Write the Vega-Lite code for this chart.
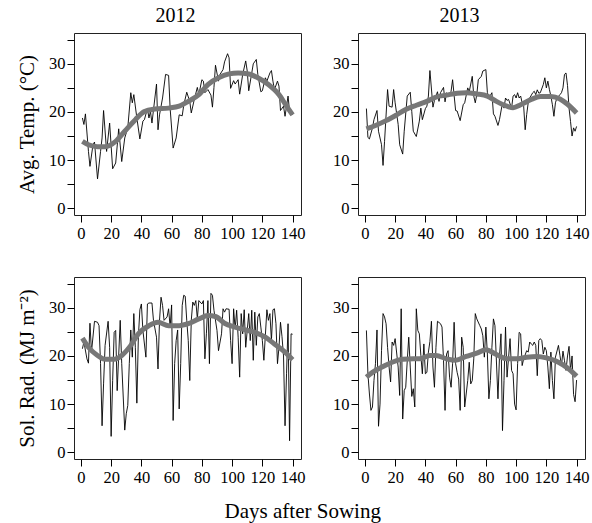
{
  "$schema": "https://vega.github.io/schema/vega-lite/v6.json",
  "padding": {"left": 16, "top": 5, "right": 0, "bottom": 10},
  "config": {
    "font": "Liberation Serif",
    "view": {"stroke": "#222", "strokeWidth": 1},
    "axis": {"domain": false, "grid": false, "tickColor": "#000", "tickSize": 7, "labelFontSize": 16.5, "labelColor": "#000", "labelOverlap": false, "titleFontSize": 21, "titleFontWeight": "normal", "titleColor": "#000", "labelFont": "Liberation Serif", "titleFont": "Liberation Serif"},
    "title": {"fontSize": 20, "fontWeight": "normal", "font": "Liberation Serif", "color": "#000"}
  },
  "datasets": {
    "aRaw": [{"d":1,"v":18.75},{"d":2,"v":17.4},{"d":3,"v":19.6},{"d":5,"v":11.8},{"d":6,"v":8.7},{"d":8,"v":13.2},{"d":9,"v":13.75},{"d":11,"v":6.1},{"d":13,"v":11.8},{"d":14,"v":14.6},{"d":15,"v":20.3},{"d":17,"v":11.8},{"d":19,"v":17.7},{"d":21,"v":8.2},{"d":23,"v":9.4},{"d":25,"v":16.5},{"d":27,"v":9.7},{"d":29,"v":14.6},{"d":31,"v":16.7},{"d":33,"v":24},{"d":34,"v":21.9},{"d":35,"v":23.6},{"d":37,"v":18.75},{"d":39,"v":14.4},{"d":41,"v":18.1},{"d":42,"v":18.4},{"d":44,"v":20.7},{"d":45,"v":18.75},{"d":46,"v":20.1},{"d":47,"v":17.7},{"d":50,"v":25.8},{"d":51,"v":16.3},{"d":52,"v":19.4},{"d":54,"v":22.9},{"d":56,"v":27.8},{"d":58,"v":27.6},{"d":59,"v":20.8},{"d":61,"v":12.5},{"d":63,"v":14.6},{"d":65,"v":19.4},{"d":67,"v":19.2},{"d":68,"v":21.4},{"d":70,"v":24.1},{"d":72,"v":22.2},{"d":73,"v":19.8},{"d":75,"v":22.6},{"d":77,"v":25.1},{"d":78,"v":23.6},{"d":80,"v":26.7},{"d":81,"v":26.4},{"d":82,"v":24},{"d":84,"v":24.65},{"d":86,"v":23.5},{"d":87,"v":21},{"d":88,"v":25.1},{"d":89,"v":29.7},{"d":91,"v":26.4},{"d":92,"v":27.8},{"d":94,"v":28.8},{"d":95,"v":30.4},{"d":97,"v":32.1},{"d":98,"v":31.25},{"d":99,"v":24.9},{"d":101,"v":26.5},{"d":102,"v":25.8},{"d":104,"v":26.7},{"d":105,"v":23.7},{"d":107,"v":27.8},{"d":109,"v":30.6},{"d":110,"v":28.5},{"d":111,"v":24.4},{"d":113,"v":28.1},{"d":114,"v":30},{"d":116,"v":30.9},{"d":117,"v":27.8},{"d":119,"v":24.2},{"d":120,"v":24.4},{"d":122,"v":27.1},{"d":123,"v":26.4},{"d":125,"v":28.1},{"d":126,"v":28.6},{"d":127,"v":26.4},{"d":128,"v":24.65},{"d":130,"v":26.4},{"d":131,"v":25.35},{"d":132,"v":20.3},{"d":134,"v":21.2},{"d":135,"v":19.1},{"d":137,"v":23.3},{"d":138,"v":20.1},{"d":140,"v":19.4}],
    "aSm": [{"d":1,"v":13.9},{"d":5,"v":13.2},{"d":11,"v":12.8},{"d":16,"v":12.8},{"d":23,"v":13.9},{"d":29,"v":16},{"d":36,"v":18.4},{"d":42,"v":20.1},{"d":49,"v":20.6},{"d":58,"v":20.8},{"d":65,"v":21.2},{"d":71,"v":22.2},{"d":78,"v":23.6},{"d":84,"v":25.7},{"d":91,"v":27.1},{"d":98,"v":27.9},{"d":104,"v":28.1},{"d":111,"v":27.9},{"d":117,"v":27.1},{"d":124,"v":25.7},{"d":131,"v":23.6},{"d":136,"v":21.2},{"d":140,"v":19.4}],
    "bRaw": [{"d":1,"v":20.7},{"d":2,"v":14.7},{"d":3,"v":14.4},{"d":5,"v":16.7},{"d":6,"v":18.4},{"d":8,"v":20.3},{"d":9,"v":16},{"d":11,"v":13.2},{"d":12,"v":8.9},{"d":13,"v":13.9},{"d":15,"v":24.65},{"d":16,"v":21.2},{"d":18,"v":21},{"d":19,"v":24.65},{"d":20,"v":21.9},{"d":22,"v":17.4},{"d":23,"v":13.2},{"d":25,"v":11.25},{"d":26,"v":16},{"d":28,"v":23.3},{"d":30,"v":24.1},{"d":31,"v":20.1},{"d":32,"v":16},{"d":34,"v":14.9},{"d":36,"v":18.1},{"d":37,"v":20.8},{"d":38,"v":18.4},{"d":40,"v":20.7},{"d":41,"v":21.2},{"d":42,"v":23.3},{"d":43,"v":28.6},{"d":45,"v":21},{"d":46,"v":22.4},{"d":48,"v":24.2},{"d":49,"v":22.2},{"d":50,"v":24},{"d":52,"v":25.1},{"d":53,"v":22.1},{"d":54,"v":24},{"d":56,"v":23.3},{"d":57,"v":24.3},{"d":58,"v":26.7},{"d":60,"v":20.3},{"d":61,"v":20.2},{"d":63,"v":18.2},{"d":65,"v":21.5},{"d":66,"v":21.9},{"d":68,"v":25},{"d":69,"v":24.2},{"d":71,"v":27.4},{"d":72,"v":23.3},{"d":73,"v":21.9},{"d":74,"v":23.6},{"d":75,"v":26.7},{"d":77,"v":27.4},{"d":78,"v":28.5},{"d":80,"v":28.8},{"d":81,"v":24},{"d":82,"v":22.9},{"d":84,"v":24},{"d":85,"v":19.6},{"d":86,"v":19.1},{"d":88,"v":17.2},{"d":89,"v":18.4},{"d":91,"v":21.9},{"d":92,"v":20.8},{"d":93,"v":22.9},{"d":94,"v":22.4},{"d":95,"v":22.6},{"d":97,"v":20.8},{"d":98,"v":23.3},{"d":99,"v":23.6},{"d":100,"v":22.9},{"d":101,"v":24},{"d":102,"v":22.9},{"d":103,"v":23.3},{"d":104,"v":21.9},{"d":105,"v":21.2},{"d":106,"v":16.3},{"d":107,"v":19.5},{"d":108,"v":21.9},{"d":109,"v":22.9},{"d":111,"v":24},{"d":112,"v":24.3},{"d":113,"v":23.6},{"d":114,"v":24.6},{"d":115,"v":23.9},{"d":116,"v":24},{"d":118,"v":25.7},{"d":119,"v":27.1},{"d":120,"v":25},{"d":121,"v":26.4},{"d":122,"v":24.7},{"d":123,"v":23.3},{"d":124,"v":21.5},{"d":125,"v":19.1},{"d":126,"v":21.9},{"d":127,"v":22.9},{"d":129,"v":23.6},{"d":130,"v":24},{"d":131,"v":25},{"d":132,"v":27.8},{"d":133,"v":28.1},{"d":134,"v":25.5},{"d":135,"v":20.8},{"d":136,"v":18},{"d":137,"v":15},{"d":138,"v":16.7},{"d":139,"v":16},{"d":140,"v":17}],
    "bSm": [{"d":1,"v":16.5},{"d":7,"v":17.2},{"d":14,"v":18.2},{"d":21,"v":19.4},{"d":27,"v":20.5},{"d":34,"v":21.4},{"d":41,"v":22.2},{"d":47,"v":23.1},{"d":54,"v":23.5},{"d":61,"v":23.9},{"d":67,"v":24},{"d":74,"v":23.75},{"d":81,"v":23.3},{"d":87,"v":22.2},{"d":94,"v":21.2},{"d":98,"v":20.9},{"d":103,"v":21.5},{"d":110,"v":22.6},{"d":116,"v":23.2},{"d":123,"v":23.2},{"d":129,"v":22.7},{"d":134,"v":21.6},{"d":140,"v":19.8}],
    "cRaw": [{"d":1,"v":21.5},{"d":2,"v":22.9},{"d":4,"v":19.4},{"d":5,"v":18.5},{"d":6,"v":26.8},{"d":7,"v":20.8},{"d":9,"v":27.2},{"d":11,"v":27},{"d":12,"v":26.3},{"d":13,"v":18.4},{"d":14,"v":5.5},{"d":15,"v":14.2},{"d":16,"v":22.2},{"d":18,"v":27.2},{"d":19,"v":21.8},{"d":20,"v":3.3},{"d":21,"v":14.9},{"d":22,"v":24.9},{"d":23,"v":25.3},{"d":24,"v":12.8},{"d":26,"v":27.4},{"d":27,"v":18.4},{"d":29,"v":4.6},{"d":30,"v":8},{"d":31,"v":9.7},{"d":32,"v":18.4},{"d":33,"v":25.4},{"d":34,"v":19.75},{"d":35,"v":28.8},{"d":36,"v":21.8},{"d":37,"v":10.2},{"d":38,"v":23.9},{"d":39,"v":29.6},{"d":40,"v":30.8},{"d":41,"v":25.3},{"d":43,"v":19.75},{"d":44,"v":30.8},{"d":45,"v":31},{"d":47,"v":31},{"d":48,"v":27.4},{"d":50,"v":23.9},{"d":51,"v":17.3},{"d":52,"v":27.4},{"d":53,"v":32.2},{"d":54,"v":30.5},{"d":55,"v":27.4},{"d":57,"v":28.1},{"d":58,"v":29.8},{"d":59,"v":26},{"d":60,"v":30.6},{"d":61,"v":6.6},{"d":62,"v":18.4},{"d":63,"v":23.2},{"d":64,"v":25.4},{"d":65,"v":9},{"d":66,"v":18.4},{"d":67,"v":30.5},{"d":68,"v":32.6},{"d":69,"v":32.4},{"d":70,"v":27.4},{"d":71,"v":23.2},{"d":72,"v":14.9},{"d":73,"v":27.4},{"d":74,"v":31.2},{"d":75,"v":30.5},{"d":76,"v":31.5},{"d":77,"v":27.7},{"d":78,"v":31.5},{"d":80,"v":30.8},{"d":81,"v":31.5},{"d":82,"v":19.4},{"d":83,"v":24.6},{"d":84,"v":31.5},{"d":85,"v":18.4},{"d":86,"v":33},{"d":87,"v":32.6},{"d":88,"v":29.5},{"d":90,"v":25.3},{"d":91,"v":21.1},{"d":93,"v":24.6},{"d":94,"v":29.8},{"d":95,"v":29.1},{"d":96,"v":29.8},{"d":98,"v":29.7},{"d":99,"v":23.2},{"d":100,"v":18.4},{"d":101,"v":29.8},{"d":102,"v":25.6},{"d":103,"v":29.5},{"d":104,"v":23.9},{"d":105,"v":15.6},{"d":106,"v":28.8},{"d":107,"v":24.6},{"d":108,"v":29.6},{"d":109,"v":21.8},{"d":111,"v":28.8},{"d":112,"v":23.2},{"d":113,"v":29.5},{"d":114,"v":19.1},{"d":115,"v":29.1},{"d":116,"v":22.2},{"d":117,"v":28.1},{"d":118,"v":28.8},{"d":119,"v":26},{"d":120,"v":23.2},{"d":121,"v":19.1},{"d":123,"v":29.6},{"d":124,"v":27.4},{"d":125,"v":28.8},{"d":126,"v":23.2},{"d":127,"v":29.6},{"d":128,"v":29.8},{"d":129,"v":26.7},{"d":130,"v":18.4},{"d":131,"v":21.8},{"d":132,"v":27},{"d":133,"v":24},{"d":134,"v":20},{"d":135,"v":5.5},{"d":136,"v":16.3},{"d":137,"v":26.7},{"d":138,"v":2.4},{"d":139,"v":24.6},{"d":140,"v":24.5}],
    "cSm": [{"d":1,"v":23.7},{"d":5,"v":21.8},{"d":11,"v":20.1},{"d":16,"v":19.3},{"d":22,"v":19.3},{"d":27,"v":20.1},{"d":33,"v":22.2},{"d":38,"v":24.6},{"d":45,"v":26.3},{"d":51,"v":27},{"d":58,"v":26.3},{"d":65,"v":26.3},{"d":71,"v":26.7},{"d":78,"v":27.7},{"d":84,"v":28.4},{"d":89,"v":28.2},{"d":95,"v":26.8},{"d":102,"v":26},{"d":109,"v":25.4},{"d":115,"v":24.9},{"d":122,"v":23.9},{"d":128,"v":22.5},{"d":135,"v":20.8},{"d":140,"v":19.2}],
    "dRaw": [{"d":1,"v":25.3},{"d":2,"v":16.3},{"d":3,"v":12.1},{"d":4,"v":8.7},{"d":5,"v":9.4},{"d":6,"v":14.9},{"d":7,"v":18.4},{"d":8,"v":25.4},{"d":9,"v":5.4},{"d":10,"v":10},{"d":11,"v":21.1},{"d":12,"v":28.8},{"d":13,"v":28.1},{"d":14,"v":26.7},{"d":15,"v":21.8},{"d":16,"v":17.7},{"d":17,"v":14.6},{"d":18,"v":22.9},{"d":19,"v":22.2},{"d":20,"v":23.6},{"d":22,"v":17.7},{"d":23,"v":11.8},{"d":24,"v":29.8},{"d":25,"v":6.9},{"d":26,"v":12.8},{"d":27,"v":13.5},{"d":28,"v":19},{"d":29,"v":23.9},{"d":30,"v":17.7},{"d":31,"v":11.6},{"d":32,"v":13.2},{"d":33,"v":9.4},{"d":34,"v":29.8},{"d":35,"v":25.3},{"d":36,"v":24.6},{"d":37,"v":20.1},{"d":38,"v":16.3},{"d":39,"v":22.5},{"d":40,"v":16.3},{"d":41,"v":16.6},{"d":42,"v":20.8},{"d":43,"v":23},{"d":44,"v":27.2},{"d":45,"v":17.7},{"d":46,"v":13.5},{"d":47,"v":21.8},{"d":48,"v":27.2},{"d":50,"v":26.7},{"d":51,"v":26},{"d":52,"v":19.1},{"d":53,"v":8.7},{"d":54,"v":20.4},{"d":55,"v":21.1},{"d":56,"v":15.6},{"d":57,"v":13.5},{"d":58,"v":18.4},{"d":59,"v":27},{"d":60,"v":18.4},{"d":61,"v":16.6},{"d":62,"v":15.2},{"d":63,"v":8.7},{"d":64,"v":23.9},{"d":65,"v":21.8},{"d":66,"v":9.4},{"d":68,"v":14.9},{"d":69,"v":18.7},{"d":70,"v":14.2},{"d":71,"v":14.9},{"d":72,"v":19.4},{"d":73,"v":28.8},{"d":74,"v":27.7},{"d":76,"v":26.3},{"d":77,"v":25.6},{"d":78,"v":24.2},{"d":79,"v":19.75},{"d":80,"v":26},{"d":81,"v":20.4},{"d":82,"v":11.1},{"d":83,"v":14.9},{"d":84,"v":21.8},{"d":85,"v":27.7},{"d":86,"v":26.3},{"d":88,"v":11.1},{"d":89,"v":19.75},{"d":90,"v":24.6},{"d":91,"v":4.5},{"d":92,"v":14.9},{"d":93,"v":26},{"d":94,"v":15.6},{"d":96,"v":23.6},{"d":97,"v":17},{"d":98,"v":16.3},{"d":99,"v":10},{"d":100,"v":8.8},{"d":101,"v":18.4},{"d":102,"v":24.9},{"d":103,"v":24.6},{"d":104,"v":18},{"d":105,"v":19.4},{"d":107,"v":21.1},{"d":108,"v":20.8},{"d":109,"v":22.9},{"d":110,"v":22.5},{"d":111,"v":22.2},{"d":112,"v":22.9},{"d":113,"v":22.2},{"d":114,"v":15.9},{"d":115,"v":23.2},{"d":116,"v":23.6},{"d":117,"v":23.2},{"d":118,"v":20.4},{"d":119,"v":21.8},{"d":120,"v":21.1},{"d":121,"v":17.7},{"d":122,"v":13.2},{"d":123,"v":20.8},{"d":124,"v":14.9},{"d":125,"v":11.1},{"d":126,"v":19.75},{"d":128,"v":22.2},{"d":129,"v":20.1},{"d":130,"v":18},{"d":131,"v":21},{"d":132,"v":19},{"d":133,"v":17},{"d":134,"v":20},{"d":135,"v":22},{"d":136,"v":17},{"d":137,"v":20},{"d":138,"v":12},{"d":139,"v":10.5},{"d":140,"v":15}],
    "dSm": [{"d":1,"v":15.6},{"d":5,"v":16.6},{"d":12,"v":17.8},{"d":18,"v":18.7},{"d":25,"v":19.3},{"d":32,"v":19.4},{"d":36,"v":19.4},{"d":43,"v":20.1},{"d":47,"v":20.1},{"d":54,"v":19.4},{"d":60,"v":19.1},{"d":67,"v":19.9},{"d":74,"v":20.6},{"d":80,"v":21.3},{"d":87,"v":20.3},{"d":94,"v":19.4},{"d":100,"v":19.4},{"d":107,"v":19.75},{"d":114,"v":19.9},{"d":120,"v":19.6},{"d":128,"v":18.7},{"d":134,"v":17.5},{"d":140,"v":15.8}]
  },
  "title": {"text": "Days after Sowing", "orient": "bottom", "anchor": "middle", "offset": 15, "fontSize": 21},
  "spacing": 33,
  "vconcat": [
    {"hconcat": [
      {"width": 227, "height": 182, "title": {"text": "2012", "dx": -12, "offset": 6},
       "encoding": {"x": {"field": "d", "type": "quantitative", "scale": {"domain": [-4.56, 145.56], "nice": false, "zero": false}, "axis": {"values": [0,20,40,60,80,100,120,140], "title": null, "labelPadding": 3, "labelOverlap": false}},
                    "y": {"field": "v", "type": "quantitative", "scale": {"domain": [-1.4, 36.4], "nice": false, "zero": false}, "axis": {"values": [0,5,10,15,20,25,30,35], "labelExpr": "datum.value % 10 === 0 ? datum.label : ''", "title": "Avg. Temp. (°C)", "labelPadding": 2, "titlePadding": 11}}},
       "layer": [
        {"data": {"name": "aRaw"}, "mark": {"type": "line", "color": "#000", "strokeWidth": 0.9}},
        {"data": {"name": "aSm"}, "mark": {"type": "line", "color": "#777777", "strokeWidth": 5, "interpolate": "monotone"}}
       ]},
      {"width": 227, "height": 182, "title": {"text": "2013", "dx": -12, "offset": 6},
       "encoding": {"x": {"field": "d", "type": "quantitative", "scale": {"domain": [-4.56, 145.56], "nice": false, "zero": false}, "axis": {"values": [0,20,40,60,80,100,120,140], "title": null, "labelPadding": 3, "labelOverlap": false}},
                    "y": {"field": "v", "type": "quantitative", "scale": {"domain": [-1.4, 36.4], "nice": false, "zero": false}, "axis": {"values": [0,5,10,15,20,25,30,35], "labelExpr": "datum.value % 10 === 0 ? datum.label : ''", "title": null, "labelPadding": 2}}},
       "layer": [
        {"data": {"name": "bRaw"}, "mark": {"type": "line", "color": "#000", "strokeWidth": 0.9}},
        {"data": {"name": "bSm"}, "mark": {"type": "line", "color": "#777777", "strokeWidth": 5, "interpolate": "monotone"}}
       ]}
    ], "spacing": 26},
    {"hconcat": [
      {"width": 227, "height": 182,
       "encoding": {"x": {"field": "d", "type": "quantitative", "scale": {"domain": [-4.56, 145.56], "nice": false, "zero": false}, "axis": {"values": [0,20,40,60,80,100,120,140], "title": null, "labelPadding": 3, "labelOverlap": false}},
                    "y": {"field": "v", "type": "quantitative", "scale": {"domain": [-1.4, 36.4], "nice": false, "zero": false}, "axis": {"values": [0,5,10,15,20,25,30,35], "labelExpr": "datum.value % 10 === 0 ? datum.label : ''", "title": "Sol. Rad. (MJ m⁻²)", "labelPadding": 2, "titlePadding": 11}}},
       "layer": [
        {"data": {"name": "cRaw"}, "mark": {"type": "line", "color": "#000", "strokeWidth": 0.9}},
        {"data": {"name": "cSm"}, "mark": {"type": "line", "color": "#777777", "strokeWidth": 5, "interpolate": "monotone"}}
       ]},
      {"width": 227, "height": 182,
       "encoding": {"x": {"field": "d", "type": "quantitative", "scale": {"domain": [-4.56, 145.56], "nice": false, "zero": false}, "axis": {"values": [0,20,40,60,80,100,120,140], "title": null, "labelPadding": 3, "labelOverlap": false}},
                    "y": {"field": "v", "type": "quantitative", "scale": {"domain": [-1.4, 36.4], "nice": false, "zero": false}, "axis": {"values": [0,5,10,15,20,25,30,35], "labelExpr": "datum.value % 10 === 0 ? datum.label : ''", "title": null, "labelPadding": 2}}},
       "layer": [
        {"data": {"name": "dRaw"}, "mark": {"type": "line", "color": "#000", "strokeWidth": 0.9}},
        {"data": {"name": "dSm"}, "mark": {"type": "line", "color": "#777777", "strokeWidth": 5, "interpolate": "monotone"}}
       ]}
    ], "spacing": 26}
  ]
}
